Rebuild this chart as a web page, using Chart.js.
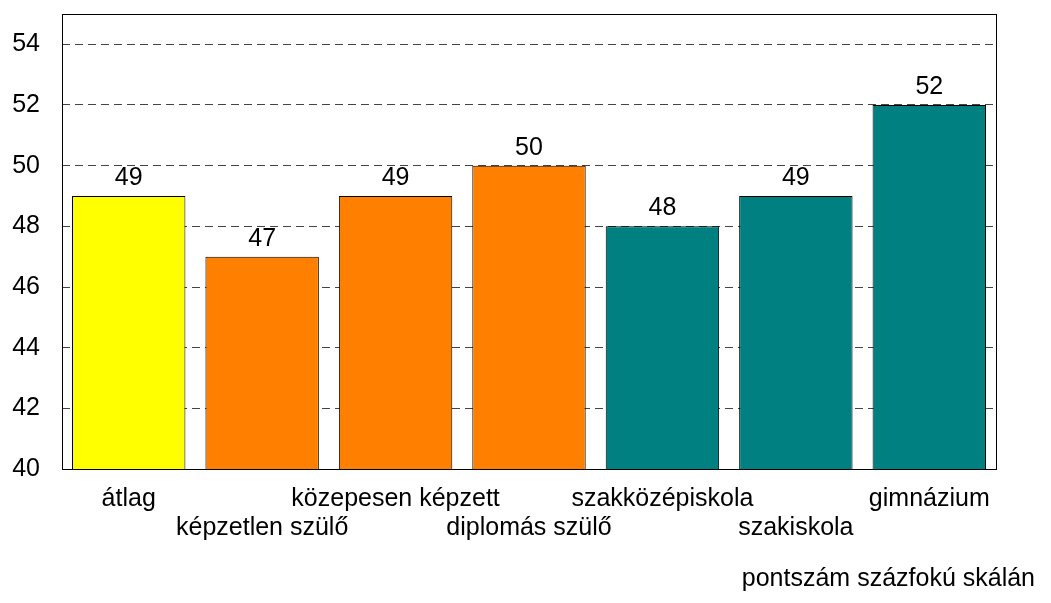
<!DOCTYPE html>
<html>
<head>
<meta charset="utf-8">
<script src="https://cdn.jsdelivr.net/npm/chart.js@4/dist/chart.umd.min.js"></script>
<style>
  html, body { margin: 0; padding: 0; background: #fff; }
  #wrap { position: relative; width: 1051px; height: 603px; }
  #note {
    position: absolute; right: 16px; top: 563px; line-height: 29px;
    font: 25px "Liberation Sans", Arial, sans-serif; color: #000;
  }
</style>
</head>
<body>
<div id="wrap">
  <canvas id="chart" width="1051" height="603"></canvas>
  <div id="note">pontszám százfokú skálán</div>
</div>
<script>
var categories = ['átlag', 'képzetlen szülő', 'közepesen képzett', 'diplomás szülő',
                  'szakközépiskola', 'szakiskola', 'gimnázium'];
var scores = [49, 47, 49, 50, 48, 49, 52];
var barColors = ['#ffff00', '#ff8000', '#ff8000', '#ff8000', '#008080', '#008080', '#008080'];
var yTicks = [40, 42, 44, 46, 48, 50, 52, 54];

var font = '"Liberation Sans", Arial, sans-serif';

// odd labels go on a second row, like the original
var labels = categories.map((c, i) => i % 2 ? ['', c] : [c, '']);

var frame = {
    id: 'frame',
    afterDraw(chart) {
        var a = chart.chartArea, ctx = chart.ctx;
        ctx.save();
        ctx.strokeStyle = '#000';
        ctx.lineWidth = 1;
        ctx.strokeRect(Math.round(a.left) + 0.5, Math.round(a.top) + 0.5,
            Math.round(a.right - a.left), Math.round(a.bottom - a.top));
        ctx.restore();
    }
};

var valueLabels = {
    id: 'valueLabels',
    afterDatasetsDraw(chart) {
        var ctx = chart.ctx;
        var meta = chart.getDatasetMeta(0);
        ctx.save();
        ctx.font = '25px ' + font;
        ctx.fillStyle = '#000';
        ctx.textAlign = 'center';
        ctx.textBaseline = 'alphabetic';
        meta.data.forEach((bar, i) => {
            var p = bar.getProps(['x', 'y'], true);
            ctx.fillText(String(scores[i]), p.x, p.y - 11);
        });
        ctx.restore();
    }
};

function noEdgePadding(scale) {
    scale.paddingTop = 0;
    scale.paddingBottom = 0;
    scale.paddingLeft = 0;
    scale.paddingRight = 0;
}

new Chart(document.getElementById('chart'), {
    type: 'bar',
    data: {
        labels: labels,
        datasets: [{
            data: scores,
            backgroundColor: barColors,
            borderColor: '#000',
            borderWidth: 1,
            barPercentage: 0.85,
            categoryPercentage: 1
        }]
    },
    options: {
        responsive: false,
        animation: false,
        layout: { padding: { left: 12, right: 55, top: 14, bottom: 61 } },
        plugins: {
            legend: { display: false },
            tooltip: { enabled: false }
        },
        scales: {
            x: {
                afterFit(scale) {
                    noEdgePadding(scale);
                    scale.height = 73;
                },
                grid: { display: false, drawTicks: false },
                border: { display: false },
                ticks: {
                    color: '#000',
                    font: { family: font, size: 25, lineHeight: 1.18 },
                    padding: 15,
                    maxRotation: 0,
                    minRotation: 0,
                    autoSkip: false
                }
            },
            y: {
                min: 40,
                max: 55,
                afterBuildTicks(scale) {
                    scale.ticks = yTicks.map(v => ({ value: v }));
                },
                afterFit(scale) {
                    noEdgePadding(scale);
                    scale.width = 50;
                },
                grid: { color: '#444', drawTicks: false },
                border: { display: false, dash: [8, 5] },
                ticks: {
                    color: '#000',
                    font: { family: font, size: 25 },
                    padding: 22
                }
            }
        }
    },
    plugins: [frame, valueLabels]
});
</script>
</body>
</html>
